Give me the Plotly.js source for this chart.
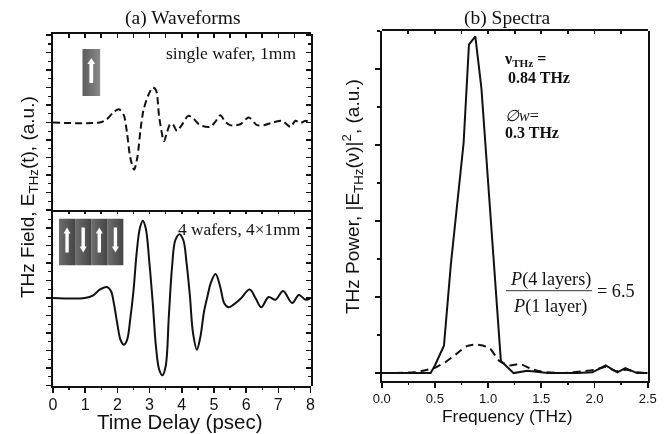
<!DOCTYPE html>
<html><head><meta charset="utf-8">
<script src="https://cdn.plot.ly/plotly-3.0.1.min.js"></script>
<style>html,body{margin:0;padding:0;background:#fff}#c{width:667px;height:434px;filter:blur(0.45px)}</style>
</head><body><div id="c"></div>
<script>
const W=667,H=434;
const singleT=[0,1.45,1.66,1.87,2.05,2.2,2.3,2.4,2.52,2.62,2.72,2.81,2.96,3.1,3.2,3.3,3.45,3.53,3.64,3.72,3.85,4.0,4.2,4.36,4.57,4.88,5.04,5.2,5.35,5.5,5.82,6.08,6.34,6.55,6.86,7.12,7.38,7.53,7.69,7.85,8];
const singleE=[0,0,.17,.57,.76,.42,-.6,-2,-2.7,-2,-.4,.7,1.56,2,1.85,.3,-1.07,-.63,-.1,-.1,-.48,-.15,.38,.23,-.15,-.25,.04,.42,.04,-.15,-.1,.29,-.15,-.15,.02,.1,-.25,.1,-.02,.1,-.02];
const fourT=[0,.99,1.25,1.45,1.68,1.8,1.9,2.0,2.1,2.2,2.3,2.4,2.5,2.6,2.7,2.79,2.88,3.0,3.1,3.2,3.3,3.4,3.5,3.6,3.7,3.8,3.93,4.05,4.15,4.25,4.35,4.47,4.57,4.7,4.8,4.9,5.05,5.2,5.32,5.45,5.61,5.82,6.11,6.29,6.47,6.7,6.91,7.15,7.43,7.64,7.85,8];
const fourE=[0,0,.15,.48,.63,.4,-.4,-1.5,-2.4,-2.67,-2.4,-1.2,.4,2.6,4.0,4.42,4.0,1.9,-.3,-2.8,-4.1,-4.42,-3.9,-1.0,1.8,3.3,3.65,3.3,2.0,.2,-2.0,-2.95,-2.3,-.7,.1,.85,1.37,.6,-.3,-.53,-.38,-.06,.48,0,-.53,.06,-.1,.4,-.29,.17,-.1,0];
const solidF=[0,.46,.5,.585,.65,.695,.77,.82,.88,.937,1.02,1.10,1.12,1.165,1.24,1.37,1.56,1.84,1.98,2.105,2.215,2.29,2.40,2.5];
const solidP=[0,0,.1,.36,1.43,2.01,3.03,4.32,4.43,3.75,2.1,.43,.16,.1,0,.03,0,0,.01,.1,.01,.066,0,0];
const dashF=[0,.3,.4,.5,.6,.7,.8,.88,.95,1.02,1.1,1.2,1.3,1.4,1.5,1.7,1.9,2.0,2.1,2.2,2.3,2.4,2.5];
const dashP=[0,.01,.035,.07,.145,.25,.355,.377,.364,.32,.167,.1,.12,.057,.02,0,.026,.044,.08,.026,.044,.01,0];
const xTicksA=[0,1,2,3,4,5,6,7,8];
const xTicksB=[0,.5,1,1.5,2,2.5];
const xTickLabelsB=['0.0','0.5','1.0','1.5','2.0','2.5'];

const sans='"Liberation Sans",Arial,sans-serif', serif='"Liberation Serif","Times New Roman",serif';
const px=x=>x/W, py=y=>1-y/H;
const dom=(a,b)=>[px(a),px(b)], domY=(top,bot)=>[py(bot),py(top)];
const ink='#111';
const minorT=(dt,dir,len)=>({dtick:dt,ticks:dir,ticklen:len||3,tickwidth:1.4,tickcolor:ink});
function axis(o){return Object.assign({showgrid:false,zeroline:false,showline:true,linecolor:ink,linewidth:2,
 ticks:'outside',ticklen:5,tickwidth:1.6,tickcolor:ink,color:ink,fixedrange:true,showticklabels:false},o);}
const xA=[53,310.5], xB=[381.7,647.7];
const topBandY=domY(34,210), botBandY=domY(210,385.5);

const traces=[
 {x:singleT,y:singleE,xaxis:'x',yaxis:'y',mode:'lines',line:{color:ink,width:2,dash:'7px,4px',shape:'spline',smoothing:.8}},
 {x:fourT,y:fourE,xaxis:'x2',yaxis:'y2',mode:'lines',line:{color:ink,width:2,shape:'spline',smoothing:1}},
 {x:solidF,y:solidP,xaxis:'x3',yaxis:'y3',mode:'lines',line:{color:ink,width:2}},
 {x:dashF,y:dashP,xaxis:'x3',yaxis:'y3',mode:'lines',line:{color:ink,width:2,dash:'8px,5px',shape:'spline',smoothing:.5}},
 {x:[],y:[],xaxis:'x4',yaxis:'y4'},{x:[],y:[],xaxis:'x5',yaxis:'y5'},{x:[],y:[],xaxis:'x6',yaxis:'y6'}
];
function t(text,x,y,size,font,extra){return Object.assign({text,xref:'paper',yref:'paper',x:px(x),y:py(y),xanchor:'center',yanchor:'middle',showarrow:false,font:{size,family:font,color:ink}},extra||{});}
function arrow(cx,up){const c=21.5,s=up?1:-1,y=v=>c-s*v;
 return `<path fill="#fff" d="M${cx-1.7} ${y(-12.5)}H${cx+1.7}V${y(6.5)}H${cx+3.5}L${cx} ${y(12.5)}L${cx-3.5} ${y(6.5)}H${cx-1.7}Z"/>`;}
function inset(dirs,from,to){const w=16.1,tw=w*dirs.length;let b='';dirs.forEach((u,i)=>{b+=`<rect x="${i*w}" y="0" width="${w+.2}" height="47" fill="url(#g)"/>`+arrow(i*w+w/2,u);});
 return 'data:image/svg+xml;utf8,'+encodeURIComponent(`<svg xmlns="http://www.w3.org/2000/svg" width="${tw}" height="47" viewBox="0 0 ${tw} 47" preserveAspectRatio="none"><defs><linearGradient id="g"><stop offset="0" stop-color="${from}"/><stop offset="1" stop-color="${to}"/></linearGradient></defs>${b}</svg>`);}
const layout={width:W,height:H,margin:{l:0,r:0,t:0,b:0},showlegend:false,paper_bgcolor:'#fff',plot_bgcolor:'rgba(0,0,0,0)',
 xaxis:axis({domain:dom(...xA),range:[0,8],anchor:'y',side:'top',dtick:.5,tick0:0,ticks:'inside',ticklen:3.5,mirror:true}),
 yaxis:axis({domain:topBandY,range:[-5,5.06],anchor:'x',dtick:1,tick0:0,minor:minorT(.5,'outside')}),
 xaxis4:axis({domain:dom(...xA),range:[0,8],anchor:'y4',ticks:'',showline:false}),
 yaxis4:axis({domain:topBandY,range:[-5,5.06],anchor:'x4',side:'right',dtick:1,tick0:0,ticks:'inside',minor:minorT(.5,'inside')}),
 xaxis2:axis({domain:dom(...xA),range:[0,8],anchor:'y2',tickmode:'array',tickvals:xTicksA,ticktext:xTicksA.map(String),showticklabels:true,ticklabelstandoff:-2,tickfont:{family:sans,size:16,color:ink},minor:minorT(.5,'outside',2.5)}),
 yaxis2:axis({domain:botBandY,range:[-5,5.03],anchor:'x2',dtick:1,tick0:0,minor:minorT(.5,'outside')}),
 xaxis5:axis({domain:dom(...xA),range:[0,8],anchor:'y5',side:'top',dtick:.5,tick0:0,ticks:'inside',ticklen:3.5,showline:false}),
 yaxis5:axis({domain:botBandY,range:[-5,5.03],anchor:'x5',side:'right',dtick:1,tick0:0,ticks:'inside',minor:minorT(.5,'inside')}),
 xaxis3:axis({domain:dom(...xB),range:[0,2.5],anchor:'y3',tickmode:'array',tickvals:xTicksB,ticktext:xTickLabelsB,showticklabels:true,tickfont:{family:sans,size:13,color:ink},minor:minorT(.25,'outside',2.5)}),
 yaxis3:axis({domain:domY(31,380.7),range:[-.1,4.5],anchor:'x3',dtick:1,tick0:0,minor:minorT(.5,'outside'),mirror:true}),
 xaxis6:axis({domain:dom(...xB),range:[0,2.5],anchor:'y6',side:'top',dtick:.25,tick0:0,ticks:'inside',ticklen:3,showline:true}),
 yaxis6:axis({domain:domY(31,380.7),range:[-.1,4.5],anchor:'x6',ticks:'',showline:false}),
 shapes:[{type:'line',xref:'paper',yref:'paper',x0:px(506),x1:px(592),y0:py(290.7),y1:py(290.7),line:{color:'#333',width:1}}],
 images:[
  {source:inset([true],'#5c5c5c','#8a8a8a'),xref:'paper',yref:'paper',x:px(82.3),y:py(49),sizex:px(18),sizey:47/H,sizing:'stretch',xanchor:'left',yanchor:'top',layer:'above'},
  {source:inset([true,false,true,false],'#6e6e6e','#444444'),xref:'paper',yref:'paper',x:px(59),y:py(218.5),sizex:px(64.5),sizey:47/H,sizing:'stretch',xanchor:'left',yanchor:'top',layer:'above'}
 ],
 annotations:[
  t('(a) Waveforms',183,18,19.5,serif),
  t('(b) Spectra',506.7,18,19.5,serif),
  t('THz Field, E<sub>THz</sub>(t), (a.u.)',29,197,19,sans,{textangle:-90}),
  t('THz Power, |E<sub>THz</sub>(ν)|<sup>2</sup>, (a.u.)',352,197,19,sans,{textangle:-90}),
  t('Time Delay (psec)',180,421,20.5,sans),
  t('Frequency (THz)',507,416,17.4,sans),
  t('single wafer, 1mm',298,53,17.5,serif,{xanchor:'right'}),
  t('4 wafers, 4×1mm',302.5,229,17.4,serif,{xanchor:'right'}),
  t('<b>ν<sub>THz</sub> =</b>',502,59,16,serif,{xanchor:'left'}),
  t('<b>0.84 THz</b>',506,77,16,serif,{xanchor:'left'}),
  t('<i>∅w</i>=',503,115,16,serif,{xanchor:'left'}),
  t('<b>0.3 THz</b>',503,133,16,serif,{xanchor:'left'}),
  t('<i>P</i>(4 layers)',550,279,18.2,serif),
  t('<i>P</i>(1 layer)',550,306,18.2,serif),
  t('= 6.5',595,291,18.2,serif,{xanchor:'left'})
 ]};
Plotly.newPlot('c',traces,layout,{staticPlot:true,displayModeBar:false});
</script></body></html>
